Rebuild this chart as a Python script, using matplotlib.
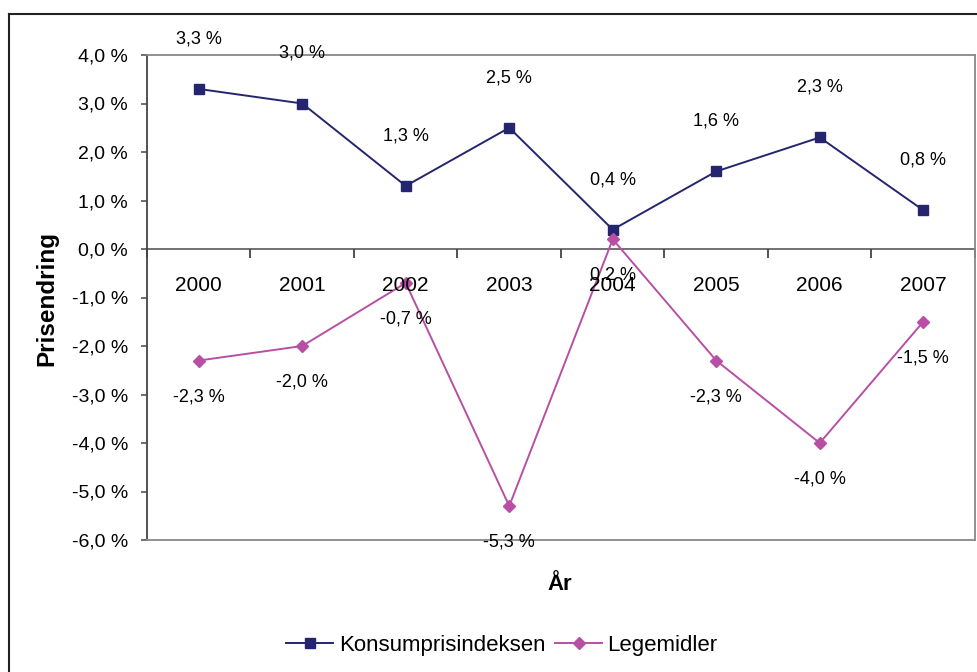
import matplotlib
matplotlib.use("Agg")
import matplotlib.pyplot as plt
from matplotlib.lines import Line2D

years = ["2000", "2001", "2002", "2003", "2004", "2005", "2006", "2007"]
kpi = [3.3, 3.0, 1.3, 2.5, 0.4, 1.6, 2.3, 0.8]
legemidler = [-2.3, -2.0, -0.7, -5.3, 0.2, -2.3, -4.0, -1.5]
yticks = [4, 3, 2, 1, 0, -1, -2, -3, -4, -5, -6]

plt.rcParams['font.family'] = ['Liberation Sans', 'DejaVu Sans']
navy = '#25256F'
mag = '#B84FA4'
fs = 13

def fmt(v):
    return ("%.1f %%" % v).replace('.', ',')

fig = plt.figure(figsize=(9.78, 6.72), dpi=100)
W, H = 978, 672
ax = fig.add_axes([147 / W, 1 - 540 / H, (975 - 147) / W, (540 - 55) / H])

x = list(range(len(years)))
ax.plot(x, kpi, color=navy, lw=1.4, marker='s', ms=7.5, label='Konsumprisindeksen', zorder=3)
ax.plot(x, legemidler, color=mag, lw=1.4, marker='D', ms=6.5, label='Legemidler', zorder=3)

ax.set_xlim(-0.5, len(years) - 0.5)
ax.set_ylim(-6, 4)
ax.set_yticks(yticks)
ax.set_yticklabels([fmt(v) for v in yticks], fontsize=14)
ax.tick_params(axis='y', direction='out', length=4.5, width=1.2, color='#555555', pad=9)
ax.set_xticks([])
for s in ['top', 'right', 'bottom']:
    ax.spines[s].set_color('#888888')
    ax.spines[s].set_linewidth(1.3)
ax.spines['left'].set_color('#444444')
ax.spines['left'].set_linewidth(1.3)

ax.axhline(0, color='#666666', lw=1.3, zorder=2)
bounds = [i - 0.5 for i in range(len(years) + 1)]
ax.plot(bounds, [0] * len(bounds), ls='none', marker=3, ms=6.5, mew=1.3, color='#444444', clip_on=False, zorder=2)

for i, y in enumerate(years):
    ax.annotate(y, (i, 0), xytext=(0, -26), textcoords='offset points',
                ha='center', va='center', fontsize=15)

for i, v in enumerate(kpi):
    ax.annotate(fmt(v), (i, v), xytext=(0, 36), textcoords='offset points',
                ha='center', va='center', fontsize=fs, annotation_clip=False)
for i, v in enumerate(legemidler):
    ax.annotate(fmt(v), (i, v), xytext=(0, -26), textcoords='offset points',
                ha='center', va='center', fontsize=fs, annotation_clip=False)

fig.text(47 / W, 1 - 298 / H, 'Prisendring', rotation=90, ha='center', va='center',
         fontsize=17.5, fontweight='bold')
fig.text(560 / W, 1 - 584 / H, 'År', ha='center', va='center', fontsize=16, fontweight='bold')

fig.legend(loc='center', bbox_to_anchor=(502 / W, 1 - 645 / H), ncol=2, frameon=False,
           fontsize=16, handlelength=2.1, columnspacing=0.45, handletextpad=0.25)

fig.add_artist(Line2D([9 / W, 1.0], [1 - 14 / H, 1 - 14 / H], transform=fig.transFigure, color='#222222', lw=1.5))
fig.add_artist(Line2D([9 / W, 9 / W], [0, 1 - 14 / H], transform=fig.transFigure, color='#222222', lw=1.5))

fig.savefig('out.png', dpi=100)
